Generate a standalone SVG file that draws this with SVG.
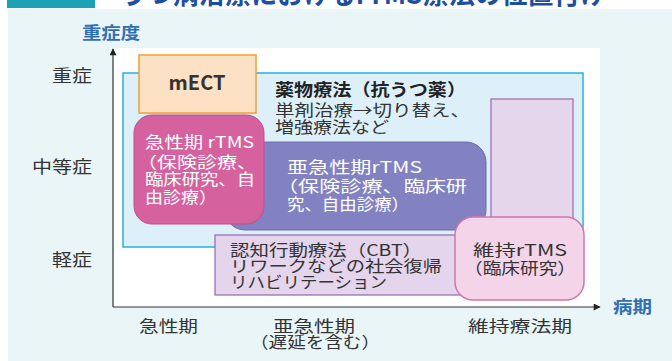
<svg xmlns="http://www.w3.org/2000/svg" width="672" height="361" viewBox="0 0 672 361">
<defs>
<style>
text{font-family:"Noto Sans CJK JP","Noto Sans",sans-serif;font-size:16px;}
.ax{fill:#333;font-size:17px;}
.axs{fill:#333;font-size:16px;}
.axb{font-weight:bold;fill:#2f6fb3;font-size:17px;}
.w{fill:#fff;}
.d{fill:#333;}
</style>
<marker id="arr" viewBox="0 0 10 10" refX="9" refY="5" markerWidth="10" markerHeight="7" markerUnits="userSpaceOnUse" orient="auto"><path d="M0,0 L10,5 L0,10 z" fill="#222"/></marker>
</defs>
<rect x="0" y="0" width="672" height="361" fill="#ffffff"/>
<rect x="8" y="9" width="664" height="352" fill="#e9f5f6"/>
<rect x="7" y="0" width="88" height="8" fill="#1ba3b5"/>
<text x="120" y="4" style="font-size:27px" font-weight="bold" fill="#1d4f9e" textLength="486" lengthAdjust="spacingAndGlyphs">うつ病治療におけるrTMS療法の位置付け</text>
<rect x="114" y="48" width="486" height="259" fill="#ffffff"/>
<g id="yaxis-labels">
<text class="axb" x="82" y="39" textLength="58" lengthAdjust="spacingAndGlyphs">重症度</text>
<text class="ax" x="52" y="82" textLength="40" lengthAdjust="spacingAndGlyphs">重症</text>
<text class="ax" x="32" y="173" textLength="60" lengthAdjust="spacingAndGlyphs">中等症</text>
<text class="ax" x="52" y="266" textLength="40" lengthAdjust="spacingAndGlyphs">軽症</text>
</g>
<g id="xaxis-labels">
<text class="axs" x="139" y="332" textLength="59" lengthAdjust="spacingAndGlyphs">急性期</text>
<text class="axs" x="273" y="332" textLength="82" lengthAdjust="spacingAndGlyphs">亜急性期</text>
<text class="axs" x="250" y="348" textLength="130" lengthAdjust="spacingAndGlyphs">（遅延を含む）</text>
<text class="axs" x="468" y="332" textLength="104" lengthAdjust="spacingAndGlyphs">維持療法期</text>
<text class="axb" x="613" y="313" textLength="39" lengthAdjust="spacingAndGlyphs">病期</text>
</g>
<g id="drug">
<rect x="123" y="73" width="460" height="174" fill="#ddf0fa" stroke="#29b0e0" stroke-width="1.5"/>
<text x="275" y="96" style="font-size:17px" font-weight="bold" fill="#222" textLength="191" lengthAdjust="spacingAndGlyphs">薬物療法（抗うつ薬）</text>
<text x="275" y="116" fill="#333" textLength="195" lengthAdjust="spacingAndGlyphs">単剤治療→切り替え、</text>
<text x="275" y="133" fill="#333" textLength="114" lengthAdjust="spacingAndGlyphs">増強療法など</text>
</g>
<g id="maint-bar">
<rect x="491" y="99" width="82" height="140" fill="#e6d6ec" stroke="#a070b4" stroke-width="1.3"/>
</g>
<g id="mect">
<rect x="139" y="55" width="117" height="58" fill="#fde1c4" stroke="#f0a030" stroke-width="1.5"/>
<text x="197" y="90" style="font-size:20px" font-weight="bold" fill="#333" text-anchor="middle">mECT</text>
</g>
<g id="subacute-rtms">
<rect x="225" y="142" width="261" height="88" rx="20" fill="#8282c2" stroke="#6c6cb0" stroke-width="1"/>
<text class="w" x="287" y="173" textLength="135" lengthAdjust="spacingAndGlyphs">亜急性期rTMS</text>
<text class="w" x="277" y="192" textLength="190" lengthAdjust="spacingAndGlyphs">（保険診療、臨床研</text>
<text class="w" x="287" y="210" textLength="122" lengthAdjust="spacingAndGlyphs">究、自由診療）</text>
</g>
<g id="acute-rtms">
<rect x="134" y="115" width="130" height="109" rx="18" fill="#d5629e" stroke="#c04e8a" stroke-width="1"/>
<text class="w" x="145" y="148" textLength="109" lengthAdjust="spacingAndGlyphs">急性期 rTMS</text>
<text class="w" x="137" y="168" textLength="120" lengthAdjust="spacingAndGlyphs">（保険診療、</text>
<text class="w" x="145" y="185" textLength="110" lengthAdjust="spacingAndGlyphs">臨床研究、自</text>
<text class="w" x="145" y="203" textLength="72" lengthAdjust="spacingAndGlyphs">由診療）</text>
</g>
<g id="cbt">
<rect x="215" y="235" width="245" height="60" fill="#e4d4ec" stroke="#9a70b4" stroke-width="1.3"/>
<text class="d" x="230" y="256" textLength="192" lengthAdjust="spacingAndGlyphs">認知行動療法（CBT）</text>
<text class="d" x="230" y="272" textLength="212" lengthAdjust="spacingAndGlyphs">リワークなどの社会復帰</text>
<text class="d" x="230" y="288" textLength="157" lengthAdjust="spacingAndGlyphs">リハビリテーション</text>
</g>
<g id="maint-rtms">
<rect x="455" y="217" width="129" height="83" rx="18" fill="#f3d4e8" stroke="#d474ac" stroke-width="1.5"/>
<text class="d" x="473" y="256" textLength="94" lengthAdjust="spacingAndGlyphs">維持rTMS</text>
<text class="d" x="464" y="274" textLength="112" lengthAdjust="spacingAndGlyphs">（臨床研究）</text>
</g>
<g id="connectors">
<line x1="113" y1="307" x2="113" y2="49" stroke="#333" stroke-width="1.2" marker-end="url(#arr)"/>
<line x1="113" y1="307" x2="600" y2="307" stroke="#333" stroke-width="1.2" marker-end="url(#arr)"/>
</g>
</svg>
